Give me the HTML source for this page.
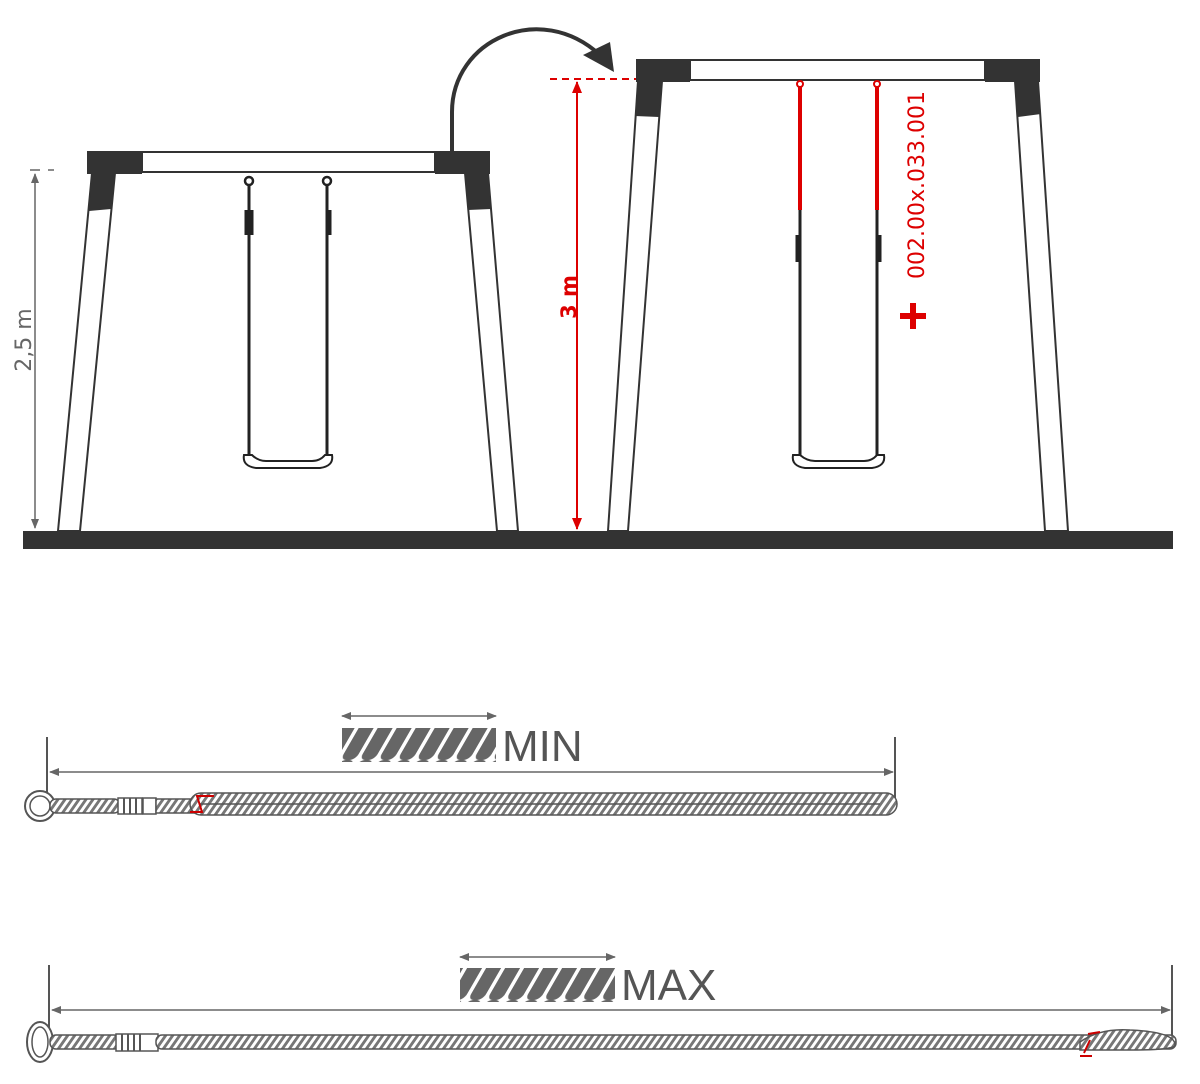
<!DOCTYPE html>
<html><head><meta charset="utf-8"><style>html,body{margin:0;padding:0;background:#fff}svg{display:block}</style></head>
<body>
<svg width="1200" height="1084" viewBox="0 0 1200 1084" xmlns="http://www.w3.org/2000/svg">
<defs>
<pattern id="rope" width="7" height="16" patternUnits="userSpaceOnUse" patternTransform="skewX(-35)">
<rect width="7" height="16" fill="#fff"/><rect x="0" width="3.5" height="16" fill="#777"/>
</pattern>
<marker id="ag" markerWidth="10" markerHeight="10" refX="9" refY="5" orient="auto" markerUnits="userSpaceOnUse"><path d="M0,1 L10,5 L0,9 z" fill="#666"/></marker>
<marker id="agS" markerWidth="10" markerHeight="10" refX="1" refY="5" orient="auto" markerUnits="userSpaceOnUse"><path d="M10,1 L0,5 L10,9 z" fill="#666"/></marker>
<marker id="ar" markerWidth="12" markerHeight="12" refX="11" refY="6" orient="auto" markerUnits="userSpaceOnUse"><path d="M0,1 L12,6 L0,11 z" fill="#d00"/></marker>
<marker id="arS" markerWidth="12" markerHeight="12" refX="1" refY="6" orient="auto" markerUnits="userSpaceOnUse"><path d="M12,1 L0,6 L12,11 z" fill="#d00"/></marker>
<pattern id="blk" width="19" height="40" patternUnits="userSpaceOnUse" patternTransform="skewX(-30)">
<rect width="19" height="40" fill="#fff"/><rect x="0" width="15" height="40" rx="6" fill="#666"/>
</pattern>
</defs>

<rect x="23" y="531" width="1150" height="18" fill="#333"/>

<!-- LEFT FRAME -->
<rect x="142" y="152" width="293" height="20" fill="#fff" stroke="#333" stroke-width="2"/>
<polygon points="92,173 115,173 80,531 58,531" fill="#fff" stroke="#333" stroke-width="2"/>
<polygon points="92,173 115,173 111,209 89,211" fill="#333"/>
<polygon points="465,173 488,173 518,531 497,531" fill="#fff" stroke="#333" stroke-width="2"/>
<polygon points="465,173 488,173 491,209 468,210" fill="#333"/>
<rect x="87" y="151" width="55" height="23" fill="#333"/>
<rect x="435" y="151" width="55" height="23" fill="#333"/>
<g stroke="#222" fill="none">
<circle cx="249" cy="181" r="4" stroke-width="2.5"/><circle cx="327" cy="181" r="4" stroke-width="2.5"/>
<line x1="249" y1="185" x2="249" y2="457" stroke-width="3"/>
<line x1="327" y1="185" x2="327" y2="457" stroke-width="3"/>
<path d="M246 210 L246 235 M252 210 L252 235 M330 210 L330 235" stroke-width="3"/>
<path d="M244 455 Q242 466 256 468 L320 468 Q334 466 332 455 L325 455 Q320 461 312 461 L266 461 Q258 461 252 455 Z" fill="#fff" stroke-width="2"/>
</g>
<line x1="30" y1="170" x2="40" y2="170" stroke="#666" stroke-width="1.5"/>
<line x1="48" y1="170" x2="54" y2="170" stroke="#666" stroke-width="1.5"/>
<line x1="35" y1="174" x2="35" y2="528" stroke="#666" stroke-width="1.5" marker-start="url(#agS)" marker-end="url(#ag)"/>
<text transform="translate(31,340) rotate(-90)" text-anchor="middle" font-family="DejaVu Sans, sans-serif" font-size="22" fill="#666">2,5 m</text>

<path d="M452 151 L452 112 C452 40 540 0 600 55" fill="none" stroke="#333" stroke-width="4"/>
<polygon points="583,55 610,42 614,72" fill="#333"/>

<!-- RIGHT FRAME -->
<rect x="690" y="60" width="295" height="20" fill="#fff" stroke="#333" stroke-width="2"/>
<polygon points="638,81 662,81 628,531 608,531" fill="#fff" stroke="#333" stroke-width="2"/>
<polygon points="638,81 662,81 659,117 635,116" fill="#333"/>
<polygon points="1015,81 1038,81 1068,531 1045,531" fill="#fff" stroke="#333" stroke-width="2"/>
<polygon points="1015,81 1038,81 1041,114 1018,117" fill="#333"/>
<rect x="636" y="59" width="54" height="23" fill="#333"/>
<rect x="985" y="59" width="55" height="23" fill="#333"/>
<g fill="none">
<circle cx="800" cy="84" r="3" stroke="#d00" stroke-width="2"/><circle cx="877" cy="84" r="3" stroke="#d00" stroke-width="2"/>
<line x1="800" y1="87" x2="800" y2="210" stroke="#d00" stroke-width="4"/>
<line x1="877" y1="87" x2="877" y2="210" stroke="#d00" stroke-width="4"/>
<line x1="800" y1="210" x2="800" y2="457" stroke="#222" stroke-width="3"/>
<line x1="877" y1="210" x2="877" y2="457" stroke="#222" stroke-width="3"/>
<path d="M797 235 L797 262 M880 235 L880 262" stroke="#222" stroke-width="3"/>
<path d="M793 455 Q791 466 805 468 L872 468 Q886 466 884 455 L877 455 Q872 461 864 461 L815 461 Q807 461 800 455 Z" fill="#fff" stroke="#222" stroke-width="2"/>
</g>
<line x1="550" y1="79" x2="636" y2="79" stroke="#d00" stroke-width="2" stroke-dasharray="7,5"/>
<line x1="577" y1="82" x2="577" y2="529" stroke="#d00" stroke-width="2" marker-start="url(#arS)" marker-end="url(#ar)"/>
<text transform="translate(576,297) rotate(-90)" text-anchor="middle" font-family="DejaVu Sans, sans-serif" font-weight="bold" font-size="21" fill="#d00">3 m</text>
<text transform="translate(924,185) rotate(-90)" text-anchor="middle" font-family="DejaVu Sans, sans-serif" font-size="22" fill="#d00">002.00x.033.001</text>
<path d="M900 316 L926 316 M913 303 L913 329" stroke="#d00" stroke-width="6"/>

<!-- MIN -->
<line x1="47" y1="737" x2="47" y2="800" stroke="#555" stroke-width="2"/>
<line x1="895" y1="737" x2="895" y2="800" stroke="#555" stroke-width="2"/>
<line x1="50" y1="772" x2="893" y2="772" stroke="#666" stroke-width="1.5" marker-start="url(#agS)" marker-end="url(#ag)"/>
<line x1="342" y1="716" x2="496" y2="716" stroke="#666" stroke-width="1.5" marker-start="url(#agS)" marker-end="url(#ag)"/>
<rect x="342" y="728" width="154" height="34" fill="url(#blk)"/>
<text x="502" y="761" font-family="Liberation Sans, sans-serif" font-size="44" fill="#555">MIN</text>
<circle cx="40" cy="806" r="15" fill="#fff" stroke="#555" stroke-width="2"/>
<circle cx="40" cy="806" r="10" fill="#fff" stroke="#555" stroke-width="1.5"/>
<rect x="50" y="799" width="70" height="14" rx="6" fill="url(#rope)" stroke="#555" stroke-width="1.5"/>
<rect x="118" y="798" width="24" height="16" fill="#fff" stroke="#555" stroke-width="1.5"/>
<path d="M124 798 V814 M130 798 V814 M136 798 V814" stroke="#555" stroke-width="2"/>
<rect x="143" y="798" width="13" height="16" fill="#fff" stroke="#555" stroke-width="1.5"/>
<rect x="156" y="799" width="40" height="14" fill="url(#rope)" stroke="#555" stroke-width="1.5"/>
<rect x="190" y="793" width="707" height="22" rx="11" fill="url(#rope)" stroke="#555" stroke-width="1.5"/>
<line x1="200" y1="804" x2="880" y2="804" stroke="#555" stroke-width="1.5"/>
<path d="M190 812 L202 812 L197 796 L208 796 M197 796 L214 796" stroke="#c00" stroke-width="2" fill="none"/>

<!-- MAX -->
<line x1="49" y1="965" x2="49" y2="1040" stroke="#555" stroke-width="2"/>
<line x1="1172" y1="965" x2="1172" y2="1040" stroke="#555" stroke-width="2"/>
<line x1="52" y1="1010" x2="1170" y2="1010" stroke="#666" stroke-width="1.5" marker-start="url(#agS)" marker-end="url(#ag)"/>
<line x1="460" y1="957" x2="615" y2="957" stroke="#666" stroke-width="1.5" marker-start="url(#agS)" marker-end="url(#ag)"/>
<rect x="460" y="968" width="155" height="34" fill="url(#blk)"/>
<text x="621" y="1000" font-family="Liberation Sans, sans-serif" font-size="44" fill="#555">MAX</text>
<ellipse cx="40" cy="1042" rx="13" ry="20" fill="#fff" stroke="#555" stroke-width="2"/>
<ellipse cx="40" cy="1042" rx="8" ry="15" fill="#fff" stroke="#555" stroke-width="1.5"/>
<rect x="50" y="1035" width="70" height="14" rx="6" fill="url(#rope)" stroke="#555" stroke-width="1.5"/>
<rect x="116" y="1034" width="42" height="17" fill="#fff" stroke="#555" stroke-width="1.5"/>
<path d="M122 1034 V1051 M128 1034 V1051 M134 1034 V1051 M140 1034 V1051" stroke="#555" stroke-width="2"/>
<rect x="156" y="1035" width="1020" height="14" rx="6" fill="url(#rope)" stroke="#555" stroke-width="1.5"/>
<path d="M1080 1042 Q1100 1028 1130 1030 Q1175 1032 1175 1045 Q1175 1050 1130 1050 L1080 1050 Z" fill="url(#rope)" stroke="#555" stroke-width="1.5"/>
<path d="M1084 1053 L1090 1040 M1080 1056 L1092 1056 M1088 1034 L1100 1032" stroke="#c00" stroke-width="2" fill="none"/>
</svg>
</body></html>
